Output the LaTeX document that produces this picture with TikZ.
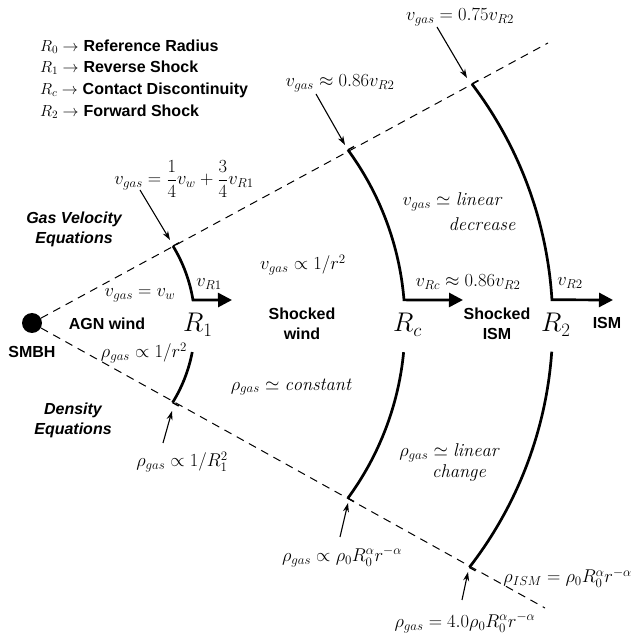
\RequirePackage{fix-cm}
\documentclass[tikz,border=0pt]{standalone}
\usepackage{fontspec}
\setsansfont{Liberation Sans}
\usetikzlibrary{arrows.meta,calc}
\begin{document}
\begin{tikzpicture}[x=1pt,y=1pt,
  mathlbl/.style={inner sep=0pt, font=\fontsize{18.5}{22}\selectfont},
  leg/.style={inner sep=0pt, anchor=west, font=\fontsize{16}{19}\selectfont},
  sanslbl/.style={inner sep=0pt, font=\fontsize{16}{19}\selectfont\sffamily\bfseries},
  sansit/.style={inner sep=0pt, font=\fontsize{16}{19}\selectfont\sffamily\bfseries\itshape},
  bigR/.style={inner sep=0pt, anchor=base west, font=\fontsize{27}{30}\selectfont},
  shock/.style={line width=2.7pt, line join=miter},
  shockarrow/.style={line width=2.7pt, line join=miter, -{Triangle[length=14pt,width=14pt]}},
  guide/.style={dash pattern=on 8pt off 6pt, line width=1pt},
  callout/.style={line width=1.1pt, -{Stealth[length=9pt,width=6pt]}},
  tickmark/.style={line width=1.4pt}]
\useasboundingbox (0,0) rectangle (632,641);

% black hole and guide lines
\node[circle, fill=black, minimum size=20pt, inner sep=0pt] (bh) at (32,318) {};
\coordinate (upend) at (548,598);
\coordinate (loend) at (545,33);
\draw[guide] (bh) -- (upend);
\draw[guide] (bh) -- (loend);

% legend
\node[leg] (l0) at (40,594) {$R_0\rightarrow$ \textsf{\bfseries Reference Radius}};
\node[leg] (l1) at (40,573) {$R_1\rightarrow$ \textsf{\bfseries Reverse Shock}};
\node[leg] (l2) at (40,551) {$R_c\rightarrow$ \textsf{\bfseries Contact Discontinuity}};
\node[leg] (l3) at (40,529) {$R_2\rightarrow$ \textsf{\bfseries Forward Shock}};

% arc centres
\coordinate (c1) at (45.3,317);
\coordinate (cc) at (110.8,317);
\coordinate (c2) at (155.6,317);
\coordinate (t1) at (232,341);
\coordinate (tc) at (463,341);
\coordinate (t2) at (613,341);

% R1
\draw[shockarrow] ([shift={(31.4:149.6)}]c1) coordinate (r1top) arc[start angle=31.4, end angle=9.2, radius=149.6] -- (t1);
\draw[shock] ([shift={(-10.8:149.6)}]c1) arc[start angle=-10.8, end angle=-31.7, radius=149.6] coordinate (r1bot);
\draw[tickmark] (r1top) -- ++(28.5:7);
\draw[tickmark] (r1bot) -- ++(-29:7);

% Rc
\draw[shockarrow] ([shift={(36.3:294.2)}]cc) coordinate (rctop) arc[start angle=36.3, end angle=4.7, radius=294.2] -- (tc);
\draw[shock] ([shift={(-5.5:294.2)}]cc) arc[start angle=-5.5, end angle=-36.3, radius=294.2] coordinate (rcbot);
\draw[tickmark] (rctop) -- ++(28.5:7);
\draw[tickmark] (rcbot) -- ++(-29:7);

% R2
\draw[shockarrow] ([shift={(37.2:397.1)}]c2) coordinate (r2top) arc[start angle=37.2, end angle=3.5, radius=397.1] -- (t2);
\draw[shock] ([shift={(-4.0:397.1)}]c2) arc[start angle=-4.0, end angle=-37.8, radius=397.1] coordinate (r2bot);
\draw[tickmark] (r2top) -- ++(28.5:7);
\draw[tickmark] (r2bot) -- ++(-29:7);

% big radius labels
\node[bigR] (R1) at (183,309) {$R_1$};
\node[bigR] (Rc) at (393,309) {$R_c$};
\node[bigR] (R2) at (541,309) {$R_2$};

% sans labels
\node[sanslbl] (smbh) at (32,289) {SMBH};
\node[sanslbl] (agn) at (107,317) {AGN wind};
\node[sanslbl, align=center] (shw) at (302,317) {Shocked\\[1pt]wind};
\node[sanslbl, align=center] (shi) at (497,317) {Shocked\\[1pt]ISM};
\node[sanslbl] (ism) at (607,318) {ISM};
\node[sansit, align=center] (gve) at (74,412) {Gas Velocity\\[1pt]Equations};
\node[sansit, align=center] (de) at (73,221) {Density\\[1pt]Equations};

% velocity labels
\node[mathlbl] (v1) at (184,462) {$\displaystyle v_{gas}=\frac{1}{4}v_w+\frac{3}{4}v_{R1}$};
\node[mathlbl] (vw) at (140,346) {$v_{gas}=v_w$};
\node[mathlbl] (vr1) at (209,357) {$v_{R1}$};
\node[mathlbl] (vsw) at (303,376) {$v_{gas}\propto 1/r^2$};
\node[mathlbl] (v086) at (340,558) {$v_{gas}\approx 0.86v_{R2}$};
\node[mathlbl] (v075) at (460,624) {$v_{gas}=0.75v_{R2}$};
\node[mathlbl] (vlin) at (452,439) {$v_{gas}\simeq \mathit{linear}$};
\node[mathlbl] (vdec) at (482,417) {$\mathit{decrease}$};
\node[mathlbl] (vrc) at (468,359) {$v_{Rc}\approx 0.86v_{R2}$};
\node[mathlbl] (vr2) at (570,358) {$v_{R2}$};

% density labels
\node[mathlbl] (rw) at (144,288) {$\rho_{gas}\propto 1/r^2$};
\node[mathlbl] (rr1) at (182,179) {$\rho_{gas}\propto 1/R_1^2$};
\node[mathlbl] (rconst) at (291,254) {$\rho_{gas}\simeq \mathit{constant}$};
\node[mathlbl] (rlin) at (449,188) {$\rho_{gas}\simeq \mathit{linear}$};
\node[mathlbl] (rchg) at (459,168) {$\mathit{change}$};
\node[mathlbl, anchor=east] (rism) at (632,63) {$\rho_{ISM}=\rho_0R_0^{\alpha}r^{-\alpha}$};
\node[mathlbl] (rrc) at (342,84) {$\rho_{gas}\propto\rho_0R_0^{\alpha}r^{-\alpha}$};
\node[mathlbl] (rr2) at (465,18) {$\rho_{gas}=4.0\rho_0R_0^{\alpha}r^{-\alpha}$};

% callout arrows
\coordinate (a1s) at (140,451); \coordinate (a1e) at (170,401);
\coordinate (a2s) at (316,547); \coordinate (a2e) at (345,496);
\coordinate (a3s) at (437,614); \coordinate (a3e) at (467,563);
\coordinate (a4s) at (163,198); \coordinate (a4e) at (172,230);
\coordinate (a5s) at (340,104); \coordinate (a5e) at (348,138);
\coordinate (a6s) at (462,41);  \coordinate (a6e) at (468,69);
\draw[callout] (a1s) -- (a1e);
\draw[callout] (a2s) -- (a2e);
\draw[callout] (a3s) -- (a3e);
\draw[callout] (a4s) -- (a4e);
\draw[callout] (a5s) -- (a5e);
\draw[callout] (a6s) -- (a6e);
\end{tikzpicture}
\end{document}
